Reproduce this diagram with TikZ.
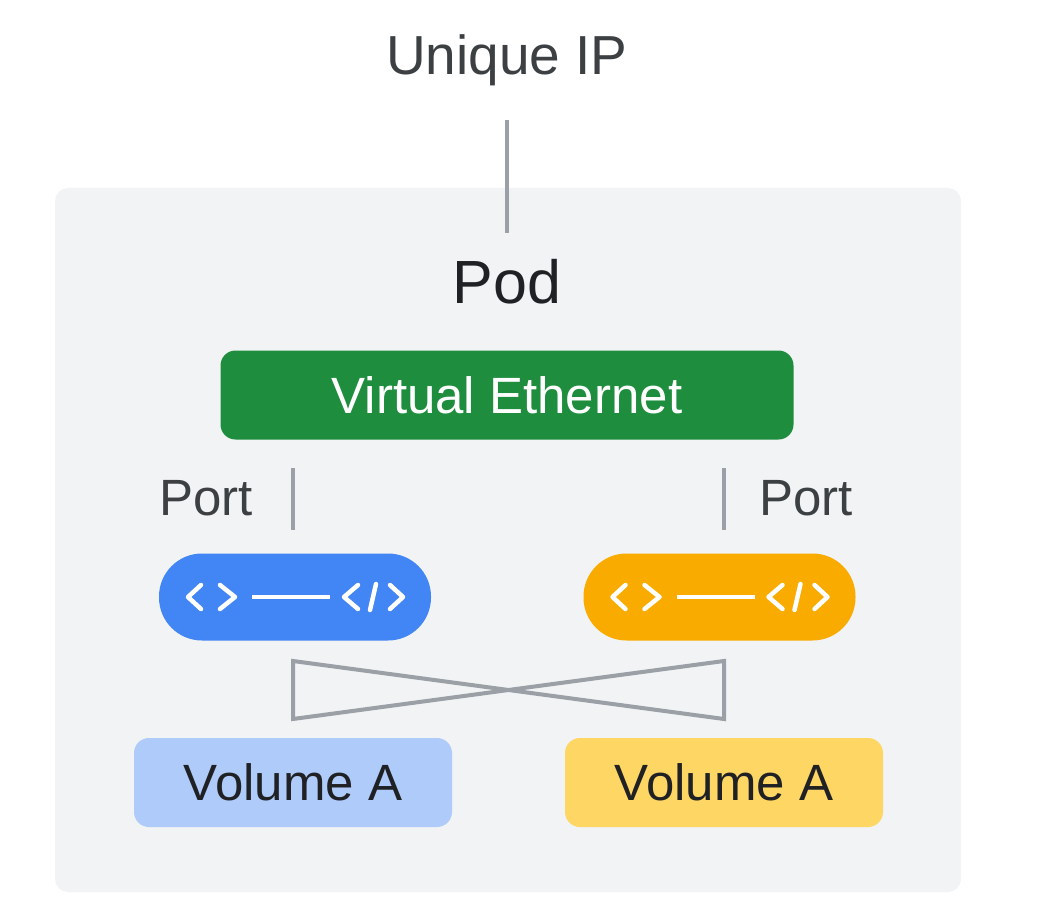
\documentclass[tikz,border=0pt]{standalone}
\usepackage{fontspec}
\setmainfont{Liberation Sans}
\definecolor{podbg}{HTML}{F1F3F5}
\definecolor{linegray}{HTML}{9AA0A6}
\definecolor{txtgray}{HTML}{3C4043}
\definecolor{txtdark}{HTML}{202124}
\definecolor{ethgreen}{HTML}{1E8E3E}
\definecolor{appblue}{HTML}{4285F4}
\definecolor{appyellow}{HTML}{F9AB00}
\definecolor{volblue}{HTML}{AECBFA}
\definecolor{volyellow}{HTML}{FDD663}
\tikzset{
	x=1pt,y=-1pt,
	wire/.style={draw=linegray,line width=4pt},
	volbox/.style={rounded corners=15pt,minimum width=318pt,minimum height=89pt,inner sep=0pt,font=\fontsize{51}{51}\selectfont,text=txtdark},
	apppill/.style={rounded corners=43pt,minimum width=272pt,minimum height=87pt,inner sep=0pt},
	glyph/.style={draw=white,line width=4.5pt,line cap=round,line join=round}
}
\begin{document}
\begin{tikzpicture}
	\useasboundingbox (0,0) rectangle (1042,912);
	\fill[podbg,rounded corners=13pt] (55,188) rectangle (961,892);
	\node[text=txtgray,font=\fontsize{55}{55}\selectfont] (ip) at (507,60) {Unique IP};
	\node[text=txtdark,font=\fontsize{61}{61}\selectfont] (pod) at (507,282) {Pod};
	\coordinate (ipa) at (507,120);
	\coordinate (ipb) at (507,233);
	\draw[wire] (ipa)--(ipb);
	\node[fill=ethgreen,text=white,rounded corners=15pt,minimum width=573pt,minimum height=89pt,inner sep=0pt,font=\fontsize{51}{51}\selectfont] (eth) at (507,395) {Virtual Ethernet};
	\node[text=txtgray,font=\fontsize{51}{51}\selectfont] (portl) at (206,498) {Port};
	\node[text=txtgray,font=\fontsize{51}{51}\selectfont] (portr) at (806,498) {Port};
	\coordinate (pla) at (293,468);
	\coordinate (plb) at (293,530);
	\coordinate (pra) at (724,468);
	\coordinate (prb) at (724,530);
	\draw[wire] (pla)--(plb);
	\draw[wire] (pra)--(prb);
	\node[apppill,fill=appblue] (appl) at (295,597) {};
	\node[apppill,fill=appyellow] (appr) at (719.5,597) {};
	\foreach \n in {appl,appr} {
		\begin{scope}[shift={(\n.center)}]
			\draw[glyph] (-94,-12)--(-107,0)--(-94,12);
			\draw[glyph] (-75,-12)--(-60,0)--(-75,12);
			\draw[white,line width=3.5pt] (-43,0)--(35,0);
			\draw[glyph] (63,-12)--(49,0)--(63,12);
			\draw[glyph] (81,-13)--(75,13);
			\draw[glyph] (95,-12)--(108,0)--(95,12);
		\end{scope}
	}
	\node[volbox,fill=volblue] (voll) at (293,782.5) {Volume A};
	\node[volbox,fill=volyellow] (volr) at (724,782.5) {Volume A};
	\coordinate (xa) at (293,661);
	\coordinate (xb) at (293,719);
	\coordinate (xc) at (724,661);
	\coordinate (xd) at (724,719);
	\draw[wire,line join=miter] (xa)--(xb)--(xc)--(xd)--cycle;
\end{tikzpicture}
\end{document}
